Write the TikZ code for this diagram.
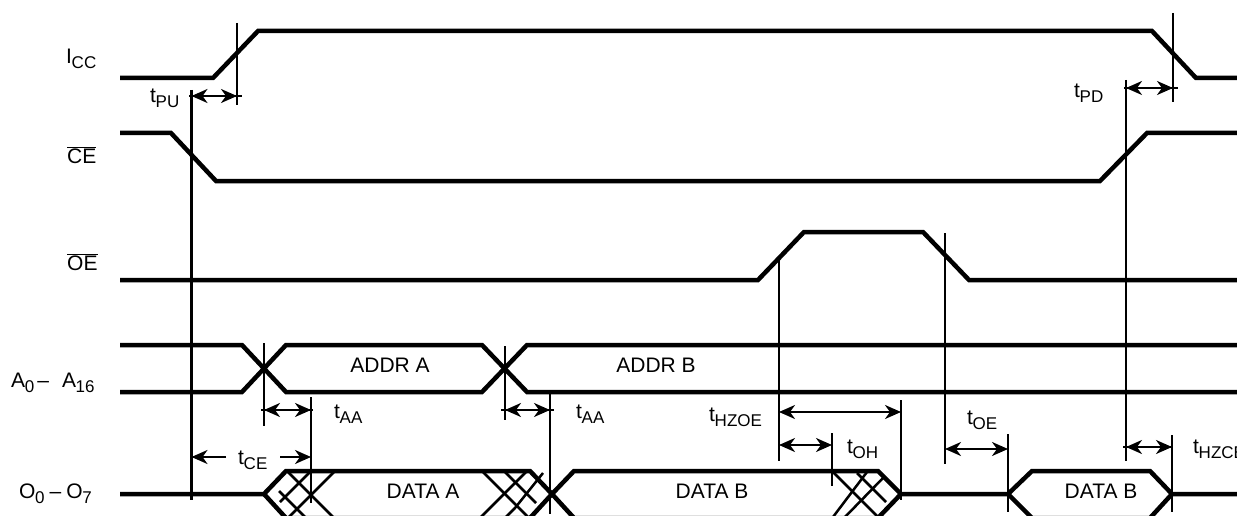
\documentclass[tikz,border=0pt]{standalone}
\usepackage{fontspec}
\setmainfont{Liberation Sans}
\usetikzlibrary{arrows.meta}
\tikzset{
 x=1pt,y=-1pt,
 sig/.style={line width=4.5pt,line join=miter,line cap=butt},
 vl/.style={line width=2.7pt},
 hat/.style={line width=2.5pt},
 dimline/.style={line width=2.2pt,{Stealth[length=16pt,width=14pt,inset=5pt]}-{Stealth[length=16pt,width=14pt,inset=5pt]}},
 one/.style={line width=2.2pt,-{Stealth[length=16pt,width=14pt,inset=5pt]}},
 ext/.style={line width=1.2pt},
 lab/.style={inner sep=0pt,font=\fontsize{21}{23}\selectfont}
}
\newcommand{\tsub}[2]{#1\kern-.3pt\raisebox{-5pt}{\fontsize{17}{18}\selectfont #2}}
\begin{document}
\begin{tikzpicture}
\useasboundingbox (0,0) rectangle (1237,516);
\clip (0,0) rectangle (1237,516);
% signals
\draw[sig] (120,78)--(213,78)--(258,31)--(1152,31)--(1196,78)--(1237,78);
\draw[sig] (120,133)--(171,133)--(216,181)--(1100,181)--(1147,133)--(1237,133);
\draw[sig] (120,280)--(758,280)--(804,232)--(923,232)--(969,280)--(1237,280);
\draw[sig] (120,345)--(242,345)--(286,392)--(482,392)--(527,345)--(1237,345);
\draw[sig] (120,392)--(242,392)--(286,345)--(482,345)--(527,392)--(1237,392);
\draw[sig] (120,494)--(264,494)--(286,471)--(530,471)--(552,494)--(574,471)--(878,471)--(901,494)--(1008,494)--(1032,471)--(1150,471)--(1172,494)--(1237,494);
\draw[sig] (264,494)--(286,518)--(530,518)--(552,494)--(574,518)--(878,518)--(901,494);
\draw[sig] (1008,494)--(1032,518)--(1150,518)--(1172,494);
% hatching
\draw[hat] (288,472)--(333,517);
\draw[hat] (279,491)--(305,517);
\draw[hat] (310,472)--(280,502);
\draw[hat] (335,471)--(289,517);
\draw[hat] (483,472)--(528,517);
\draw[hat] (505,472)--(536,503);
\draw[hat] (527,471)--(481,517);
\draw[hat] (543,473)--(515,508)--(506,517);
\draw[hat] (833,472)--(878,517);
\draw[hat] (857,473)--(886,502);
\draw[hat] (867,472)--(833,517);
\draw[hat] (884,477)--(845,517);
% verticals
\draw[vl] (237,23)--(237,105);
\draw[vl] (191.5,90)--(191.5,500);
\draw[vl] (1126,80)--(1126,461);
\draw[vl] (1173,13)--(1173,102);
\draw[vl] (779,260)--(779,461);
\draw[vl] (945,233)--(945,464);
\draw[vl] (264,343)--(264,426);
\draw[vl] (505,346)--(505,420);
\draw[vl] (311,397)--(311,503);
\draw[vl] (550,392)--(550,514);
\draw[vl] (901,400)--(901,500);
\draw[vl] (832,433)--(832,486);
\draw[vl] (1008,434)--(1008,512);
\draw[vl] (1172,435)--(1172,512);
% dimensions
\draw[dimline] (191.5,96)--(237,96);
\draw[dimline] (1126,88)--(1173,88);
\draw[dimline] (264,410)--(311,410);
\draw[dimline] (505,410)--(550,410);
\draw[dimline] (779,412)--(901,412);
\draw[dimline] (779,445)--(832,445);
\draw[dimline] (945,449)--(1008,449);
\draw[dimline] (1126,447)--(1172,447);
\draw[one] (226,457)--(191.5,457);
\draw[one] (280,457)--(311,457);
\draw[ext] (189,96)--(242,96);
\draw[ext] (1124,88)--(1178,88);
\draw[ext] (261,410)--(313,410);
\draw[ext] (501,410)--(554,410);
\draw[ext] (1123,447)--(1172,447);
% labels
\node[lab,anchor=west] (icc) at (66,59) {\tsub{I}{CC}};
\node[lab,anchor=west] (ce) at (67,155) {$\overline{\mbox{CE}}$};
\node[lab,anchor=west] (oe) at (67,262) {$\overline{\mbox{OE}}$};
\node[lab,anchor=west] (a) at (11,383) {\tsub{A}{0}\kern3pt–\kern13pt\tsub{A}{16}};
\node[lab,anchor=west] (o) at (19,494) {\tsub{O}{0}\kern5pt–\kern5pt\tsub{O}{7}};
\node[lab] (aa) at (390,365) {ADDR A};
\node[lab] (ab) at (656,365) {ADDR B};
\node[lab] (da) at (423,491) {DATA A};
\node[lab] (db) at (712,491) {DATA B};
\node[lab] (dc) at (1101,491) {DATA B};
\node[lab,anchor=west] (tpu) at (150,98) {\tsub{t}{PU}};
\node[lab,anchor=west] (tpd) at (1074,93) {\tsub{t}{PD}};
\node[lab,anchor=west] (taa) at (334,414) {\tsub{t}{AA}};
\node[lab,anchor=west] (tab) at (576,414) {\tsub{t}{AA}};
\node[lab,anchor=west] (tce) at (238,460) {\tsub{t}{CE}};
\node[lab,anchor=west] (thz) at (709,417) {\tsub{t}{HZOE}};
\node[lab,anchor=west] (toh) at (847,449) {\tsub{t}{OH}};
\node[lab,anchor=west] (toe) at (967,420) {\tsub{t}{OE}};
\node[lab,anchor=west] (thc) at (1193,449) {\tsub{t}{HZCE}};
\end{tikzpicture}
\end{document}
